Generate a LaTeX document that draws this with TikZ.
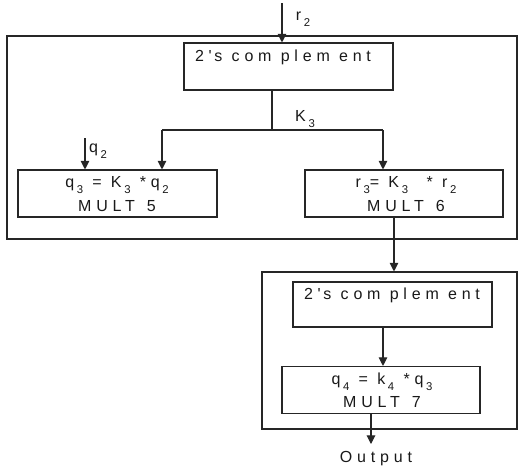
\documentclass[tikz,border=0pt]{standalone}
\usepackage{fontspec}
\setmainfont{Liberation Sans}
\newfontfamily\lbl[LetterSpace=30]{Liberation Sans}
\usetikzlibrary{arrows.meta}
\newcommand{\sbs}[1]{\,\raisebox{-4.5pt}{\fontsize{8.5}{9}\selectfont #1}}
\begin{document}
\begin{tikzpicture}[x=0.75pt,y=-0.75pt,
  box/.style={draw=black!85,line width=0.8pt,inner sep=0pt},
  txt/.style={font=\lbl\fontsize{12}{17.5}\selectfont,inner sep=0pt,align=center,text=black!90},
  arr/.style={draw=black!85,line width=0.8pt,-{Triangle[length=6.5pt,width=6.5pt]}},
  ln/.style={draw=black!85,line width=0.8pt}]
\useasboundingbox (0,0) rectangle (522,472);
% outer boxes
\node[box,minimum width=510*0.75pt,minimum height=203*0.75pt] (o1) at (262,137.5) {};
\node[box,minimum width=255*0.75pt,minimum height=157*0.75pt] (o2) at (389.5,350.5) {};
% inner boxes
\node[box,minimum width=209*0.75pt,minimum height=47*0.75pt] (c1) at (288.5,66.5) {};
\node[txt] (c1t) at (283,57) {2'\,s com plem ent};
\node[box,minimum width=199*0.75pt,minimum height=47*0.75pt] (m5) at (117.5,193.5) {};
\node[txt] (m5t) at (117,194) {q\sbs{3} = K\sbs{3} *q\sbs{2}\\MULT\ \,5};
\node[box,minimum width=198*0.75pt,minimum height=47*0.75pt] (m6) at (404,193.5) {};
\node[txt] (m6t) at (406,194) {r\sbs{3}= K\sbs{3}\ \ * r\sbs{2}\\MULT\ \,6};
\node[box,minimum width=199*0.75pt,minimum height=45*0.75pt] (c2) at (392.5,304.5) {};
\node[txt] (c2t) at (392,295) {2'\,s com plem ent};
\node[box,minimum width=198*0.75pt,minimum height=47*0.75pt] (m7) at (381,390) {};
\node[txt] (m7t) at (382,390) {q\sbs{4} = k\sbs{4} *q\sbs{3}\\MULT\ \,7};
% labels
\node[txt] (r2) at (303,19) {r\sbs{2}};
\node[txt] (k3) at (305,119) {K\sbs{3}};
\node[txt] (q2) at (98,151) {q\sbs{2}};
\node[txt] (out) at (376,459) {Output};
% connectors
\coordinate (top) at (282,3);
\draw[arr] (top) -- (c1.north -| top);
\coordinate (split) at (272,130);
\draw[ln] (c1.south -| split) -- (split);
\coordinate (la) at (162,130);
\coordinate (ra) at (383,130);
\draw[ln] (la) -- (ra);
\draw[arr] (la) -- (m5.north -| la);
\draw[arr] (ra) -- (m6.north -| ra);
\coordinate (q2s) at (85,138);
\draw[arr] (q2s) -- (m5.north -| q2s);
\coordinate (m6o) at (394,217);
\draw[arr] (m6.south -| m6o) -- (o2.north -| m6o);
\coordinate (c2o) at (383,327);
\draw[arr] (c2.south -| c2o) -- (m7.north -| c2o);
\coordinate (m7o) at (371,413);
\coordinate (oute) at (371,444);
\draw[arr] (m7.south -| m7o) -- (oute);
\end{tikzpicture}
\end{document}
